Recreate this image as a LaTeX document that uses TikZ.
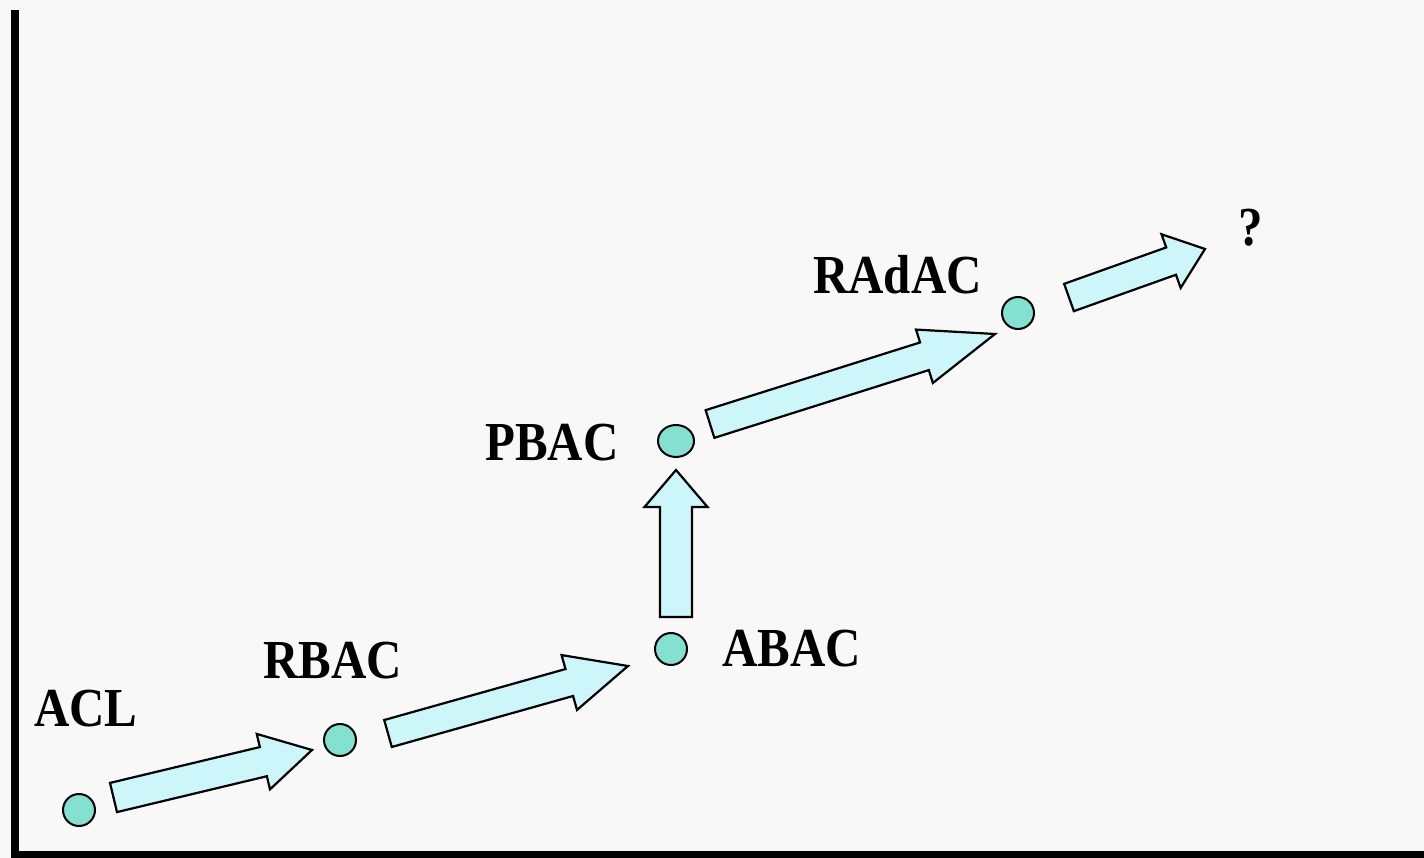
\documentclass[tikz,border=0pt]{standalone}
\usepackage{graphicx}
\usepackage{fontspec}
\setmainfont{Liberation Serif}
\usetikzlibrary{calc, positioning, shapes.geometric}

\definecolor{dotfill}{RGB}{132,224,208}
\definecolor{arrowfill}{RGB}{204,246,250}
\definecolor{paper}{RGB}{248,248,248}

\newcommand{\narrowtext}[1]{\scalebox{0.89}[1]{#1}}

\tikzset{
	dot/.style={ellipse, draw=black, line width=2pt, fill=dotfill, minimum width=32pt, minimum height=32pt, inner sep=0pt},
	stage/.style={font=\fontsize{55}{60}\selectfont\bfseries, inner sep=0pt, anchor=base west},
	fatarrow/.style={draw=black, line width=2.2pt, fill=arrowfill, line join=miter},
	axisline/.style={line width=8pt, line join=miter}
}

% block arrow: {tail}{tip}{head length}{half head width}{half shaft width}
\newcommand{\blockarrow}[5]{%
	\coordinate (#2-base) at ($(#2)!#3!(#1)$);
	\draw[fatarrow] ($(#1)!#5!90:(#2)$) -- ($(#2-base)!#5!90:(#2)$) -- ($(#2-base)!#4!90:(#2)$)
		-- (#2) -- ($(#2-base)!#4!-90:(#2)$) -- ($(#2-base)!#5!-90:(#2)$) -- ($(#1)!#5!-90:(#2)$) -- cycle;
}

\begin{document}
\begin{tikzpicture}[x=1pt, y=-1pt]
	% Paper
	\fill[paper] (0,0) rectangle (1424,858);
	\useasboundingbox (0,0) rectangle (1424,858);
	
	% Axes
	\draw[axisline] (15,10) -- (15,855) -- (1424,855);
	
	% Stages
	\node[dot] (acl) at (79,810) {};
	\node[dot] (rbac) at (340,740) {};
	\node[dot] (abac) at (671,649) {};
	\node[dot, minimum width=36pt] (pbac) at (676,441) {};
	\node[dot] (radac) at (1018,313) {};
	
	\node[stage] (acl-text) at (34,726) {\narrowtext{ACL}};
	\node[stage] (rbac-text) at (263,678) {\narrowtext{RBAC}};
	\node[stage] (abac-text) at (722,666) {\narrowtext{ABAC}};
	\node[stage] (pbac-text) at (485,460) {\narrowtext{PBAC}};
	\node[stage] (radac-text) at (813,294) {\narrowtext{RAdAC}};
	\node[stage] (next-text) at (1238,246) {\narrowtext{?}};
	
	% Arrow ends
	\coordinate (t1) at (113.5,797.5);
	\coordinate (h1) at (312,750);
	\coordinate (t2) at (388,733.5);
	\coordinate (h2) at (628,666);
	\coordinate (t3) at (676,617);
	\coordinate (h3) at (676,470);
	\coordinate (t4) at (710,424);
	\coordinate (h4) at (995,334);
	\coordinate (t5) at (1069,297.5);
	\coordinate (h5) at (1205,249);
	
	% Evolution arrows
	\foreach \t/\h/\hl/\hw/\sw in {t1/h1/50pt/28.5pt/15pt, t2/h2/61pt/28.5pt/14pt, t3/h3/37pt/31.5pt/16pt, t4/h4/74pt/28pt/14.5pt, t5/h5/36pt/28.5pt/14.5pt} {
		\blockarrow{\t}{\h}{\hl}{\hw}{\sw}
	}
\end{tikzpicture}
\end{document}
